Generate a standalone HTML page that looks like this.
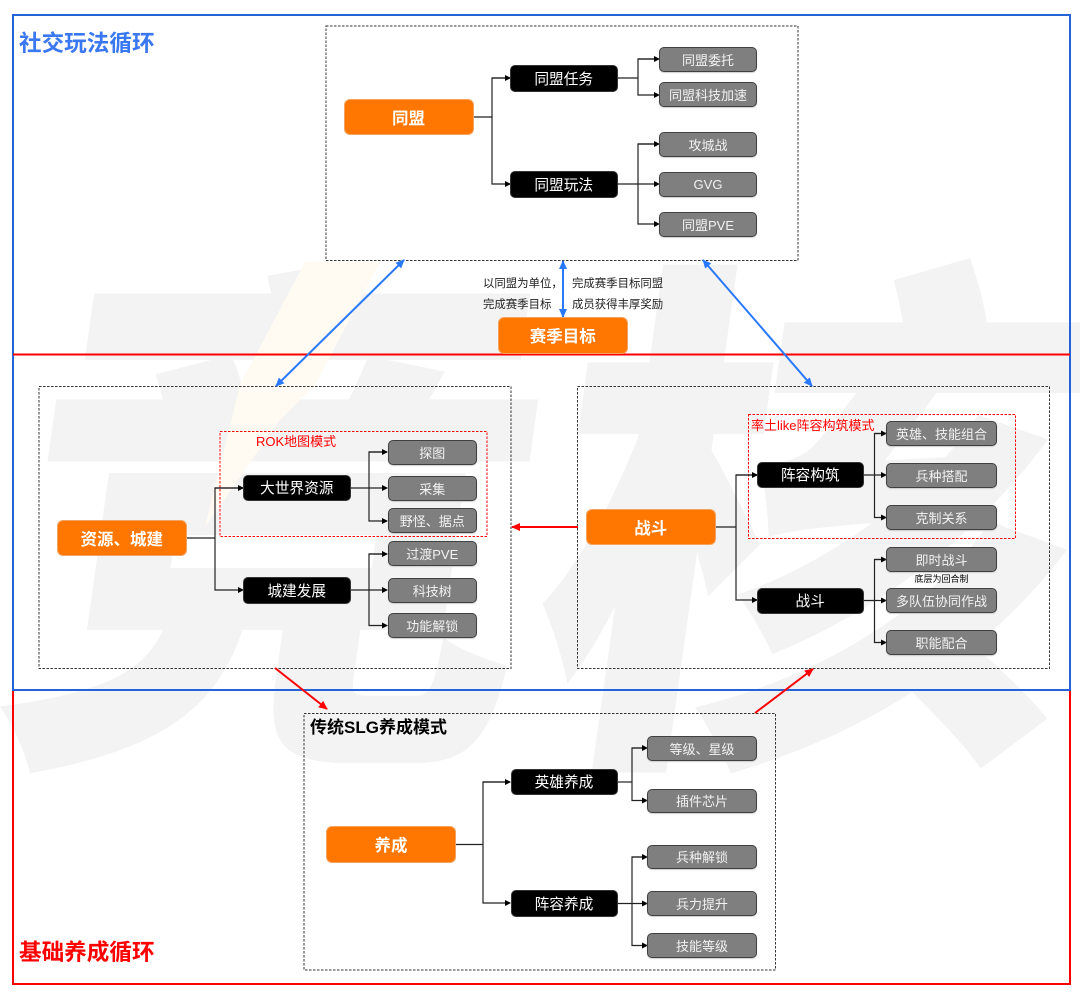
<!DOCTYPE html>
<html lang="zh"><head><meta charset="utf-8"><title>循环图</title>
<style>
html,body{margin:0;padding:0;background:#fff}
#c{position:relative;width:1080px;height:994px;overflow:hidden;background:#fff;font-family:"Liberation Sans","Noto Sans CJK SC",sans-serif;filter:blur(.3px)}
.wm{position:absolute;left:10px;top:208px;font-size:535px;line-height:660px;font-weight:900;color:#f3f3f3;white-space:nowrap;transform:skewX(-8deg);letter-spacing:0}
svg{position:absolute;left:0;top:0}
.n{position:absolute;box-sizing:border-box;display:flex;align-items:center;justify-content:center;white-space:nowrap}
.o{background:#ff7600;border:1px solid #f4a35f;border-radius:6px;color:#fff;font-weight:700;font-size:16.5px}
.b{background:#000;border:1px solid #333;border-radius:5px;color:#fff;font-size:14.7px;left:0}
.g{background:#7f7f7f;border:1.5px solid #404040;border-radius:5px;color:#f2f2f2;font-size:13px;box-shadow:0 1px 1px #ccc}
.t{position:absolute;white-space:nowrap}
</style></head><body><div id="c">
<div class="wm">竞核</div>
<svg width="1080" height="994" viewBox="0 0 1080 994" fill="none">
<defs>
<marker id="k" markerWidth="6" markerHeight="6" refX="5" refY="3" orient="auto" markerUnits="userSpaceOnUse"><path d="M0 0L6 3L0 6Z" fill="#000"/></marker>
<marker id="bl" markerWidth="10" markerHeight="10" refX="8" refY="5" orient="auto-start-reverse" markerUnits="userSpaceOnUse"><path d="M0 1L9 5L0 9Z" fill="#2979ff"/></marker>
<marker id="r" markerWidth="10" markerHeight="10" refX="8" refY="5" orient="auto" markerUnits="userSpaceOnUse"><path d="M0 1L9 5L0 9Z" fill="#f00"/></marker>
</defs>
<polygon points="305,262 380,262 315,385 280,420 205,527 240,385" fill="#fffaf2"/>
<rect x="13" y="15" width="1057" height="675" stroke="#2563d8" stroke-width="2"/>
<path d="M13 354.5H1070" stroke="#f00" stroke-width="2"/>
<path d="M13 691V984H1070V691" stroke="#f00" stroke-width="2"/>
<path d="M13 690H1070" stroke="#2563d8" stroke-width="2"/>
<g stroke="#333" stroke-width="1" stroke-dasharray="2.5 1.5">
<rect x="326" y="26" width="472" height="234.5"/>
<rect x="39" y="386.5" width="472" height="282"/>
<rect x="577.5" y="386.5" width="472" height="282"/>
<rect x="304" y="713.5" width="471.5" height="256.5"/>
</g>
<g stroke="#f00" stroke-width="1" stroke-dasharray="2.5 1.5">
<rect x="220" y="431.5" width="267" height="105"/>
<rect x="748.5" y="414.5" width="267" height="124"/>
</g>
<g stroke="#2979ff" stroke-width="2">
<path d="M276 386L404 260" marker-start="url(#bl)" marker-end="url(#bl)"/>
<path d="M812 386L703 260" marker-start="url(#bl)" marker-end="url(#bl)"/>
<path d="M563 317V261" marker-start="url(#bl)" marker-end="url(#bl)"/>
</g>
<g stroke="#f00" stroke-width="2">
<path d="M578 527H512" marker-end="url(#r)"/>
<path d="M275 668L327 709" marker-end="url(#r)"/>
<path d="M755 713L813 669" marker-end="url(#r)"/>
</g>
<g stroke="#222" stroke-width="1.2">
<path d="M474 117H492"/><path d="M510 78H492V184H510" marker-end="url(#k)"/><path d="M492 78H510" marker-end="url(#k)"/>
<path d="M617 78H638"/><path d="M659 59H638V95H659" marker-end="url(#k)"/><path d="M638 59H659" marker-end="url(#k)"/>
<path d="M617 184H659" marker-end="url(#k)"/><path d="M659 144H638V224H659" marker-end="url(#k)"/><path d="M638 144H659" marker-end="url(#k)"/>

<path d="M187 538H215"/><path d="M243 488H215V590H243" marker-end="url(#k)"/><path d="M215 488H243" marker-end="url(#k)"/>
<path d="M350 488H387" marker-end="url(#k)"/><path d="M387 452H369V521H387" marker-end="url(#k)"/><path d="M369 452H387" marker-end="url(#k)"/>
<path d="M350 590H387" marker-end="url(#k)"/><path d="M387 554H369V625.5H387" marker-end="url(#k)"/><path d="M369 554H387" marker-end="url(#k)"/>

<path d="M716 527H736"/><path d="M757 475H736V600H757" marker-end="url(#k)"/><path d="M736 475H757" marker-end="url(#k)"/>
<path d="M864 475H886" marker-end="url(#k)"/><path d="M886 433.5H874.5V517.5H886" marker-end="url(#k)"/><path d="M874.5 433.5H886" marker-end="url(#k)"/>
<path d="M864 600.5H886" marker-end="url(#k)"/><path d="M886 559.5H874.5V642.5H886" marker-end="url(#k)"/><path d="M874.5 559.5H886" marker-end="url(#k)"/>

<path d="M456 844.5H483"/><path d="M510 782H483V903H510" marker-end="url(#k)"/><path d="M483 782H510" marker-end="url(#k)"/>
<path d="M617 782H632"/><path d="M647 748H632V800.5H647" marker-end="url(#k)"/><path d="M632 748H647" marker-end="url(#k)"/>
<path d="M617 903.5H647" marker-end="url(#k)"/><path d="M647 857H632V945.5H647" marker-end="url(#k)"/><path d="M632 857H647" marker-end="url(#k)"/>
</g>
</svg>

<div class="t" style="left:19px;top:29px;font-size:22.6px;line-height:30px;font-weight:700;color:#3a78f2">社交玩法循环</div>
<div class="t" style="left:19px;top:938px;font-size:22.6px;line-height:30px;font-weight:700;color:#f00">基础养成循环</div>
<div class="t" style="left:310px;top:717px;font-size:17px;line-height:22px;font-weight:700;color:#000">传统SLG养成模式</div>
<div class="t" style="left:256px;top:433px;font-size:13px;line-height:17px;color:#f00">ROK地图模式</div>
<div class="t" style="left:751px;top:417px;font-size:13px;line-height:17px;color:#f00">率土like阵容构筑模式</div>
<div class="t" style="left:483px;top:274px;font-size:11.4px;line-height:21px;color:#222">以同盟为单位，<br>完成赛季目标</div>
<div class="t" style="left:572px;top:274px;font-size:11.4px;line-height:21px;color:#222">完成赛季目标同盟<br>成员获得丰厚奖励</div>
<div class="t" style="left:886px;width:111px;top:573px;text-align:center;font-size:9px;line-height:12px;color:#000">底层为回合制</div>

<div class="n o" style="left:343.5px;top:98.5px;width:130px;height:36.5px">同盟</div>
<div class="n o" style="left:497.5px;top:317px;width:130.5px;height:36.5px">赛季目标</div>
<div class="n o" style="left:56.5px;top:520px;width:130.5px;height:36px">资源、城建</div>
<div class="n o" style="left:585.5px;top:509px;width:130.5px;height:36px">战斗</div>
<div class="n o" style="left:326px;top:826px;width:130px;height:36.5px">养成</div>

<div class="n b" style="left:510px;top:65px;width:107.5px;height:26.5px">同盟任务</div>
<div class="n b" style="left:510px;top:171px;width:107.5px;height:26.5px">同盟玩法</div>
<div class="n b" style="left:243px;top:474.5px;width:107.5px;height:26.5px">大世界资源</div>
<div class="n b" style="left:243px;top:577px;width:107.5px;height:26.5px">城建发展</div>
<div class="n b" style="left:756.5px;top:461.5px;width:107.5px;height:26.5px">阵容构筑</div>
<div class="n b" style="left:756.5px;top:587.5px;width:107.5px;height:26.5px">战斗</div>
<div class="n b" style="left:510.5px;top:768.5px;width:107px;height:26.5px">英雄养成</div>
<div class="n b" style="left:510.5px;top:890px;width:107px;height:26.5px">阵容养成</div>

<div class="n g" style="left:659px;top:47px;width:98px;height:25px">同盟委托</div>
<div class="n g" style="left:659px;top:82px;width:98px;height:25px">同盟科技加速</div>
<div class="n g" style="left:659px;top:132px;width:98px;height:25px">攻城战</div>
<div class="n g" style="left:659px;top:172px;width:98px;height:25px">GVG</div>
<div class="n g" style="left:659px;top:211.5px;width:98px;height:25px">同盟PVE</div>

<div class="n g" style="left:387.5px;top:439.5px;width:89.5px;height:25px">探图</div>
<div class="n g" style="left:387.5px;top:475.5px;width:89.5px;height:25px">采集</div>
<div class="n g" style="left:387.5px;top:508px;width:89.5px;height:25px">野怪、据点</div>
<div class="n g" style="left:387.5px;top:541px;width:89.5px;height:25px">过渡PVE</div>
<div class="n g" style="left:387.5px;top:578px;width:89.5px;height:25px">科技树</div>
<div class="n g" style="left:387.5px;top:613px;width:89.5px;height:25px">功能解锁</div>

<div class="n g" style="left:886px;top:421px;width:111px;height:25px">英雄、技能组合</div>
<div class="n g" style="left:886px;top:463px;width:111px;height:25px">兵种搭配</div>
<div class="n g" style="left:886px;top:505px;width:111px;height:25px">克制关系</div>
<div class="n g" style="left:886px;top:547px;width:111px;height:25px">即时战斗</div>
<div class="n g" style="left:886px;top:588px;width:111px;height:25px">多队伍协同作战</div>
<div class="n g" style="left:886px;top:630px;width:111px;height:25px">职能配合</div>

<div class="n g" style="left:647px;top:736px;width:110px;height:24.5px">等级、星级</div>
<div class="n g" style="left:647px;top:788.5px;width:110px;height:24.5px">插件芯片</div>
<div class="n g" style="left:647px;top:844.5px;width:110px;height:24.5px">兵种解锁</div>
<div class="n g" style="left:647px;top:891px;width:110px;height:24.5px">兵力提升</div>
<div class="n g" style="left:647px;top:933px;width:110px;height:24.5px">技能等级</div>
</div></body></html>
